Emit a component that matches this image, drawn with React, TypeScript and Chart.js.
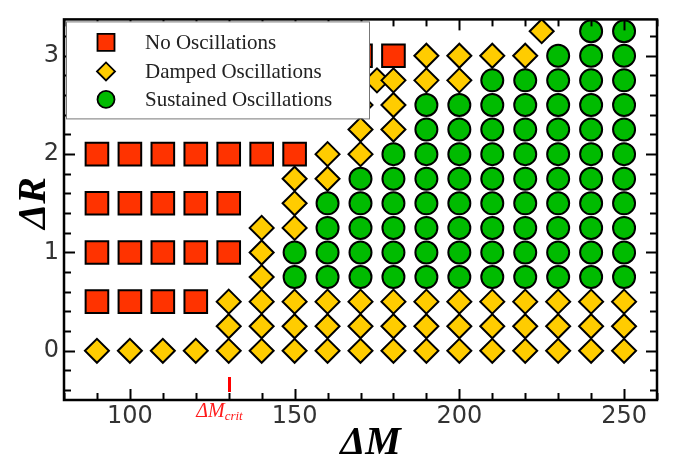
import React, { useEffect, useRef } from "react";
import { Chart, registerables } from "chart.js";

Chart.register(...registerables);

const W = 675;
const H = 457;

const X_MIN = 80;
const X_MAX = 260;
const Y_MIN = -0.5;
const Y_MAX = 3.37;
const xTickLabels = [100, 150, 200, 250];
const yTickLabels = [0, 1, 2, 3];
const X_MINOR = 10;
const Y_MINOR = 0.2;
const criticalMass = 130;
const legendLabels = ["No Oscillations", "Damped Oscillations", "Sustained Oscillations"];

type P = [number, number];

const noOscillations: P[] = [
  [90, 0.5], [100, 0.5], [110, 0.5], [120, 0.5],
  [90, 1], [100, 1], [110, 1], [120, 1], [130, 1],
  [90, 1.5], [100, 1.5], [110, 1.5], [120, 1.5], [130, 1.5],
  [90, 2], [100, 2], [110, 2], [120, 2], [130, 2], [140, 2], [150, 2],
  [170, 3], [180, 3],
];

const dampedOscillations: P[] = [
  [90, 0], [100, 0], [110, 0], [120, 0], [130, 0], [140, 0], [150, 0], [160, 0], [170, 0],
  [180, 0], [190, 0], [200, 0], [210, 0], [220, 0], [230, 0], [240, 0], [250, 0],
  [130, 0.25], [140, 0.25], [150, 0.25], [160, 0.25], [170, 0.25], [180, 0.25], [190, 0.25],
  [200, 0.25], [210, 0.25], [220, 0.25], [230, 0.25], [240, 0.25], [250, 0.25],
  [130, 0.5], [140, 0.5], [150, 0.5], [160, 0.5], [170, 0.5], [180, 0.5], [190, 0.5],
  [200, 0.5], [210, 0.5], [220, 0.5], [230, 0.5], [240, 0.5], [250, 0.5],
  [140, 0.75], [140, 1], [140, 1.25],
  [150, 1.25], [150, 1.5], [150, 1.75],
  [160, 1.75], [160, 2],
  [170, 2], [170, 2.25], [170, 2.5],
  [175, 2.75],
  [180, 2.25], [180, 2.5], [180, 2.75],
  [190, 2.75], [190, 3],
  [200, 2.75], [200, 3],
  [210, 3], [220, 3], [225, 3.25],
];

const sustainedOscillations: P[] = [
  [150, 0.75], [150, 1],
  [160, 0.75], [160, 1], [160, 1.25], [160, 1.5],
  [170, 0.75], [170, 1], [170, 1.25], [170, 1.5], [170, 1.75],
  [180, 0.75], [180, 1], [180, 1.25], [180, 1.5], [180, 1.75], [180, 2],
  [190, 0.75], [190, 1], [190, 1.25], [190, 1.5], [190, 1.75], [190, 2], [190, 2.25], [190, 2.5],
  [200, 0.75], [200, 1], [200, 1.25], [200, 1.5], [200, 1.75], [200, 2], [200, 2.25], [200, 2.5],
  [210, 0.75], [210, 1], [210, 1.25], [210, 1.5], [210, 1.75], [210, 2], [210, 2.25], [210, 2.5], [210, 2.75],
  [220, 0.75], [220, 1], [220, 1.25], [220, 1.5], [220, 1.75], [220, 2], [220, 2.25], [220, 2.5], [220, 2.75],
  [230, 0.75], [230, 1], [230, 1.25], [230, 1.5], [230, 1.75], [230, 2], [230, 2.25], [230, 2.5], [230, 2.75], [230, 3],
  [240, 0.75], [240, 1], [240, 1.25], [240, 1.5], [240, 1.75], [240, 2], [240, 2.25], [240, 2.5], [240, 2.75], [240, 3], [240, 3.25],
  [250, 0.75], [250, 1], [250, 1.25], [250, 1.5], [250, 1.75], [250, 2], [250, 2.25], [250, 2.5], [250, 2.75], [250, 3], [250, 3.25],
];

const RED = "#ff3300";
const YELLOW = "#ffcc00";
const GREEN = "#00bb00";

export default function App() {
  const ref = useRef<HTMLCanvasElement>(null);

  useEffect(() => {
    document.body.style.margin = "0";
    const canvas = ref.current;
    if (!canvas) return;
    const toXY = (a: P[]) => a.map(([x, y]) => ({ x, y }));

    const drawMarker = (ctx: CanvasRenderingContext2D, kind: string, x: number, y: number, s: number, fill: string) => {
      ctx.beginPath();
      if (kind === "rect") {
        ctx.rect(x - s, y - s, 2 * s, 2 * s);
      } else if (kind === "diamond") {
        ctx.moveTo(x - s, y);
        ctx.lineTo(x, y - s);
        ctx.lineTo(x + s, y);
        ctx.lineTo(x, y + s);
        ctx.closePath();
      } else {
        ctx.arc(x, y, s, 0, Math.PI * 2);
      }
      ctx.fillStyle = fill;
      ctx.fill();
      ctx.lineWidth = 1.8;
      ctx.strokeStyle = "#000";
      ctx.stroke();
    };

    const decor = {
      id: "decor",
      afterDatasetsDraw(chart: any) {
        const ctx: CanvasRenderingContext2D = chart.ctx;
        const a = chart.chartArea;
        const sx = chart.scales.x;
        const sy = chart.scales.y;
        ctx.save();
        const seg = (x1: number, y1: number, x2: number, y2: number) => {
          ctx.beginPath();
          ctx.moveTo(x1, y1);
          ctx.lineTo(x2, y2);
          ctx.stroke();
        };
        ctx.strokeStyle = "#000";
        ctx.lineWidth = 2;
        for (let k = Math.ceil(X_MIN / X_MINOR); k * X_MINOR <= X_MAX + 1e-9; k++) {
          const v = k * X_MINOR;
          const major = xTickLabels.includes(v);
          const px = Math.round(sx.getPixelForValue(v)) + 0.5;
          const len = major ? 11 : 7;
          seg(px, a.bottom, px, a.bottom - len);
          seg(px, a.top, px, a.top + len);
        }
        for (let k = Math.ceil(Y_MIN / Y_MINOR - 1e-9); k * Y_MINOR <= Y_MAX + 1e-9; k++) {
          const v = k * Y_MINOR;
          const major = Math.abs(v - Math.round(v)) < 1e-6;
          const py = Math.round(sy.getPixelForValue(v)) + 0.5;
          const len = major ? 11 : 7;
          seg(a.left, py, a.left + len, py);
          seg(a.right, py, a.right - len, py);
        }
        // critical mass marker
        const cx = Math.round(sx.getPixelForValue(criticalMass)) + 0.5;
        ctx.strokeStyle = "#ff0000";
        ctx.lineWidth = 3;
        seg(cx, a.bottom - 8, cx, a.bottom - 23);

        // legend
        const lx = a.left + 2;
        const ly = a.top + 2;
        const lw = 303;
        const lh = 97;
        ctx.fillStyle = "#fff";
        ctx.fillRect(lx, ly, lw, lh);
        ctx.strokeStyle = "#777";
        ctx.lineWidth = 1;
        ctx.strokeRect(lx + 0.5, ly + 0.5, lw, lh);
        const rows = [a.top + 23, a.top + 52, a.top + 80];
        const kinds = ["rect", "diamond", "circle"];
        const fills = [RED, YELLOW, GREEN];
        const sizes = [8.5, 9, 8.5];
        ctx.font = "21px 'Liberation Serif', serif";
        ctx.textBaseline = "middle";
        ctx.textAlign = "left";
        for (let i = 0; i < 3; i++) {
          drawMarker(ctx, kinds[i], a.left + 42, rows[i], sizes[i], fills[i]);
          ctx.fillStyle = "#222";
          ctx.fillText(legendLabels[i], a.left + 81, rows[i] + 1);
        }

        // frame
        ctx.strokeStyle = "#000";
        ctx.lineWidth = 2.5;
        ctx.strokeRect(a.left, a.top, a.right - a.left, a.bottom - a.top);

        // critical label
        ctx.fillStyle = "#ff1a1a";
        ctx.textBaseline = "alphabetic";
        const mainFont = "italic 20px 'Liberation Serif', serif";
        const subFont = "italic 13px 'Liberation Serif', serif";
        ctx.font = mainFont;
        const main = "ΔM";
        const sub = "crit";
        const w1 = ctx.measureText(main).width;
        ctx.font = subFont;
        const w2 = ctx.measureText(sub).width;
        const startX = cx - 10 - (w1 + w2) / 2;
        ctx.font = mainFont;
        ctx.fillText(main, startX, a.bottom + 17);
        ctx.font = subFont;
        ctx.fillText(sub, startX + w1, a.bottom + 20);

        // axis titles
        ctx.fillStyle = "#000";
        ctx.font = "italic bold 40px 'Liberation Serif', serif";
        ctx.textAlign = "center";
        ctx.textBaseline = "alphabetic";
        ctx.fillText("ΔM", (a.left + a.right) / 2 + 10, H - 3);
        ctx.save();
        ctx.translate(45, 203);
        ctx.rotate(-Math.PI / 2);
        ctx.fillText("ΔR", 0, 0);
        ctx.restore();
        ctx.restore();
      },
    };

    const tickFont = { family: "'DejaVu Sans', sans-serif", size: 24 };

    const chart = new Chart(canvas, {
      type: "scatter",
      data: {
        datasets: [
          {
            label: legendLabels[0],
            data: toXY(noOscillations),
            pointStyle: "rect",
            pointRadius: 16,
            backgroundColor: RED,
            borderColor: "#000",
            borderWidth: 2,
          },
          {
            label: legendLabels[1],
            data: toXY(dampedOscillations),
            pointStyle: "rectRot",
            pointRadius: 12,
            backgroundColor: YELLOW,
            borderColor: "#000",
            borderWidth: 2,
          },
          {
            label: legendLabels[2],
            data: toXY(sustainedOscillations),
            pointStyle: "circle",
            pointRadius: 11,
            backgroundColor: GREEN,
            borderColor: "#000",
            borderWidth: 2,
          },
        ],
      },
      options: {
        animation: false,
        responsive: false,
        events: [],
        layout: { padding: { top: 13, right: 9, left: 0, bottom: 0 } },
        plugins: { legend: { display: false }, tooltip: { enabled: false } },
        scales: {
          x: {
            type: "linear",
            min: X_MIN,
            max: X_MAX,
            grid: { display: false, drawTicks: false },
            border: { display: false },
            afterBuildTicks: (s: any) => {
              s.ticks = xTickLabels.map((v) => ({ value: v }));
            },
            afterFit: (s: any) => {
              s.height = 57;
            },
            ticks: { font: tickFont, color: "#333", padding: 2, autoSkip: false, maxRotation: 0 },
          },
          y: {
            type: "linear",
            min: Y_MIN,
            max: Y_MAX,
            grid: { display: false, drawTicks: false },
            border: { display: false },
            afterBuildTicks: (s: any) => {
              s.ticks = yTickLabels.map((v) => ({ value: v }));
            },
            afterFit: (s: any) => {
              s.width = 64;
            },
            ticks: { font: tickFont, color: "#333", padding: 5, autoSkip: false },
          },
        },
      },
      plugins: [decor],
    });
    return () => chart.destroy();
  }, []);

  return (
    <div style={{ position: "absolute", left: 0, top: 0, width: W, height: H, background: "#fff" }}>
      <canvas ref={ref} width={W} height={H} />
    </div>
  );
}
